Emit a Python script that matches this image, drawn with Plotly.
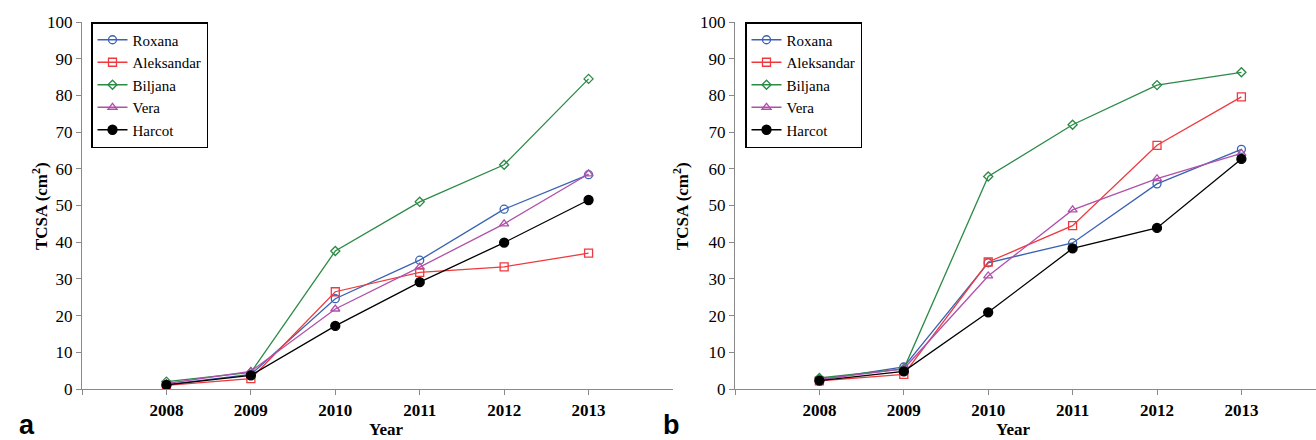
import plotly.graph_objects as go

years = [2008, 2009, 2010, 2011, 2012, 2013]
year_labels = ["2008", "2009", "2010", "2011", "2012", "2013"]
cultivars = ["Roxana", "Aleksandar", "Biljana", "Vera", "Harcot"]

# Panel a
a_roxana = [1.2, 4.0, 24.6, 35.1, 49.0, 58.4]
a_aleksandar = [1.0, 2.8, 26.5, 31.8, 33.3, 37.0]
a_biljana = [2.0, 4.5, 37.6, 51.0, 61.1, 84.5]
a_vera = [1.5, 4.8, 21.8, 33.2, 45.0, 58.6]
a_harcot = [1.1, 3.7, 17.2, 29.1, 39.9, 51.5]

# Panel b
b_roxana = [2.5, 6.0, 34.4, 39.8, 55.9, 65.3]
b_aleksandar = [2.2, 4.0, 34.6, 44.5, 66.4, 79.6]
b_biljana = [3.0, 5.5, 57.9, 72.0, 82.8, 86.3]
b_vera = [2.6, 5.5, 30.8, 48.8, 57.3, 64.2]
b_harcot = [2.3, 4.8, 20.9, 38.3, 43.9, 62.7]

y_ticks = [0, 10, 20, 30, 40, 50, 60, 70, 80, 90, 100]

colors = ["#3a62b3", "#ee3a3e", "#2b8a46", "#b050aa", "#000000"]
symbols = ["circle-open", "square-open", "diamond-open", "triangle-up-open", "circle"]
sizes = [8, 8, 7, 8, 9]

panel_a = [a_roxana, a_aleksandar, a_biljana, a_vera, a_harcot]
panel_b = [b_roxana, b_aleksandar, b_biljana, b_vera, b_harcot]

SERIF = "Liberation Serif"
SANS = "Liberation Sans"

fig = go.Figure()
for i, name in enumerate(cultivars):
    fig.add_trace(go.Scatter(
        x=years, y=panel_a[i], name=name, mode="lines+markers",
        line=dict(color=colors[i], width=1.3),
        marker=dict(symbol=symbols[i], size=sizes[i], color=colors[i],
                    line=dict(color=colors[i], width=1.3)),
        xaxis="x", yaxis="y", legend="legend", cliponaxis=False))
for i, name in enumerate(cultivars):
    fig.add_trace(go.Scatter(
        x=years, y=panel_b[i], name=name, mode="lines+markers",
        line=dict(color=colors[i], width=1.3),
        marker=dict(symbol=symbols[i], size=sizes[i], color=colors[i],
                    line=dict(color=colors[i], width=1.3)),
        xaxis="x2", yaxis="y2", legend="legend2", cliponaxis=False))

W, H = 1316, 440
ydom = [(H - 389) / H, (H - 22) / H]

xcommon = dict(
    automargin=False,
    showgrid=False, zeroline=False, showline=True, linecolor="#8a8a8a", linewidth=1.3,
    ticks="outside", ticklen=5, tickcolor="#8a8a8a", tickwidth=1,
    tickvals=[2007] + years, ticktext=[""] + year_labels,
    tickfont=dict(family=SERIF, size=17, color="#000", weight="bold"),
)
ycommon = dict(
    automargin=False,
    showgrid=False, zeroline=False, showline=True, linecolor="#8a8a8a", linewidth=1.3,
    ticks="outside", ticklen=5, tickcolor="#8a8a8a", tickwidth=1,
    tickvals=y_ticks, range=[0, 100],
    tickfont=dict(family=SERIF, size=17, color="#000"),
)

legend_common = dict(
    bgcolor="white", bordercolor="#000", borderwidth=1.5,
    font=dict(family=SERIF, size=15, color="#000"),
    xanchor="left", yanchor="top", tracegroupgap=0,
)

fig.update_layout(
    template="none",
    width=W, height=H,
    margin=dict(l=0, r=0, t=0, b=0, autoexpand=False),
    paper_bgcolor="white", plot_bgcolor="white",
    showlegend=True,
    font=dict(family=SERIF, size=17, color="#000"),
    xaxis=dict(domain=[82 / W, 673 / W], range=[2007, 2014], anchor="y", **xcommon),
    yaxis=dict(domain=ydom, anchor="x", **ycommon),
    xaxis2=dict(domain=[735 / W, 1.0], range=[2007, 2007 + (1316 - 735) / 84.4], anchor="y2", **xcommon),
    yaxis2=dict(domain=ydom, anchor="x2", **ycommon),
    legend=dict(x=91 / W, y=(H - 22) / H, **legend_common),
    legend2=dict(x=745 / W, y=(H - 22) / H, **legend_common),
    annotations=[
        dict(text="<b>TCSA (cm<sup>2</sup>)</b>", x=27 / W, y=(H - 206) / H, xref="paper", yref="paper",
             textangle=-90, showarrow=False, font=dict(family=SERIF, size=17, color="#000")),
        dict(text="<b>TCSA (cm<sup>2</sup>)</b>", x=681 / W, y=(H - 206) / H, xref="paper", yref="paper",
             textangle=-90, showarrow=False, font=dict(family=SERIF, size=17, color="#000")),
        dict(text="<b>Year</b>", x=367 / W, y=(H - 429) / H, xref="paper", yref="paper",
             yanchor="middle", showarrow=False, font=dict(family=SERIF, size=17, color="#000")),
        dict(text="<b>Year</b>", x=1032 / W, y=(H - 429) / H, xref="paper", yref="paper",
             yanchor="middle", showarrow=False, font=dict(family=SERIF, size=17, color="#000")),
        dict(text="<b>a</b>", x=17 / W, y=(H - 425) / H, xref="paper", yref="paper",
             yanchor="middle", showarrow=False, font=dict(family=SANS, size=27, color="#000")),
        dict(text="<b>b</b>", x=671 / W, y=(H - 425) / H, xref="paper", yref="paper",
             yanchor="middle", showarrow=False, font=dict(family=SANS, size=27, color="#000")),
    ],
)

fig.write_html("out.html", config={"displayModeBar": False},
               post_script="document.body.style.margin='0';document.body.style.overflow='hidden';")
